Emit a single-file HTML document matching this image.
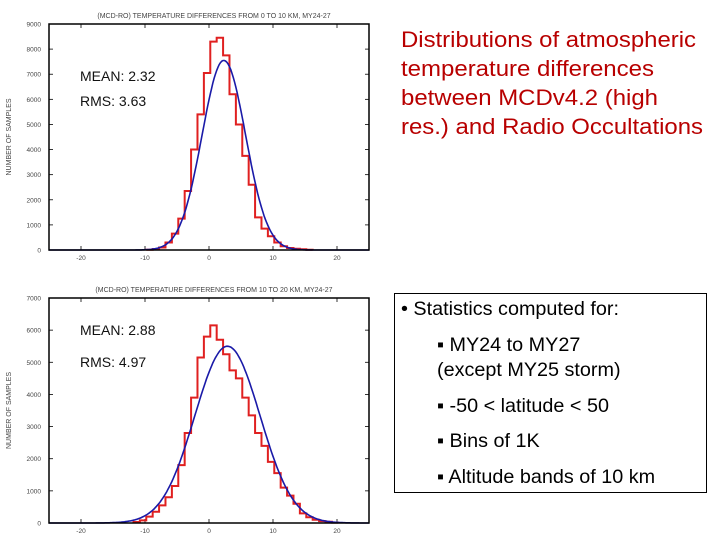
<!DOCTYPE html>
<html><head><meta charset="utf-8"><style>
body{margin:0;background:#fff;width:720px;height:540px;overflow:hidden;font-family:"Liberation Sans",sans-serif}
svg{position:absolute;left:0;top:0}
</style></head><body>
<svg id="s" width="720" height="540">
<g fill="#b80000" font-size="22" font-family="Liberation Sans, sans-serif">
<text x="401" y="47" textLength="295" lengthAdjust="spacingAndGlyphs">Distributions of atmospheric</text>
<text x="401" y="76" textLength="253" lengthAdjust="spacingAndGlyphs">temperature differences</text>
<text x="401" y="105" textLength="257" lengthAdjust="spacingAndGlyphs">between MCDv4.2 (high</text>
<text x="401" y="134" textLength="302" lengthAdjust="spacingAndGlyphs">res.) and Radio Occultations</text>
</g>
<g font-size="19.8" font-family="Liberation Sans, sans-serif" fill="#000">
<rect x="394.5" y="293.5" width="312" height="199" fill="none" stroke="#000" stroke-width="1"/>
<text x="401" y="315">• Statistics computed for:</text>
<text x="437" y="351">▪ MY24 to MY27</text>
<text x="437" y="376">(except MY25 storm)</text>
<text x="437" y="412">▪ -50 &lt; latitude &lt; 50</text>
<text x="437" y="447">▪ Bins of 1K</text>
<text x="437" y="483">▪ Altitude bands of 10 km</text>
</g>
</svg>
<script>
// Top chart data (0-10 km)
const binStart1 = -9.8;
const counts1 = [10,40,100,300,650,1250,2350,4000,5400,7050,8300,8450,7750,6200,5000,3750,2600,1300,850,550,300,150,80,50,30,10];
const fit1 = [7550, 2.32, 3.4]; // peak, mean, sigma
const yTicks1 = [0,1000,2000,3000,4000,5000,6000,7000,8000,9000];
// Bottom chart data (10-20 km)
const binStart2 = -11.8;
const counts2 = [30,80,200,350,550,800,1150,1800,2800,3900,5150,5800,6150,5700,5250,4750,4500,3900,3350,2800,2400,1900,1550,1100,850,600,300,180,100,60,40,10];
const fit2 = [5500, 2.88, 5.1];
const yTicks2 = [0,1000,2000,3000,4000,5000,6000,7000];
const xTicks = [-20,-10,0,10,20];

const NS="http://www.w3.org/2000/svg", svg=document.getElementById('s');
function mk(t,a,p){const e=document.createElementNS(NS,t);for(const k in a)e.setAttribute(k,a[k]);(p||svg).appendChild(e);return e;}

function chart(name,top,bottom,ymax,yTicks,binStart,counts,fit,title,mean,rms){
  const L=49,R=369;
  const g=mk('g',{});
  
  
  const x=v=>L+(v+25)/50*(R-L);
  const y=v=>bottom-v/ymax*(bottom-top);
  const t=mk('text',{x:(L+R)/2+5,y:top-6,'text-anchor':'middle','font-size':'7','fill':'#444'},g);
  t.textContent=title;
  
  
  const yl=mk('text',{x:0,y:0,transform:`translate(11,${(top+bottom)/2}) rotate(-90)`,'text-anchor':'middle','font-size':'7','fill':'#444'},g);
  yl.textContent='NUMBER OF SAMPLES';
  
  
  yTicks.forEach(v=>{
    const tt=mk('text',{x:L-8,y:y(v)+2.5,'text-anchor':'end','font-size':'6.5','fill':'#444'},g);
    tt.textContent=v;
    
    
    mk('line',{x1:L,x2:L+4,y1:y(v),y2:y(v),stroke:'#000','stroke-width':0.8},g);
    mk('line',{x1:R,x2:R-4,y1:y(v),y2:y(v),stroke:'#000','stroke-width':0.8},g);
  });
  xTicks.forEach(v=>{
    const tt=mk('text',{x:x(v),y:bottom+10,'text-anchor':'middle','font-size':'6.5','fill':'#444'},g);
    tt.textContent=v;
    
    
    mk('line',{x1:x(v),x2:x(v),y1:bottom,y2:bottom-4,stroke:'#000','stroke-width':0.8},g);
    mk('line',{x1:x(v),x2:x(v),y1:top,y2:top+4,stroke:'#000','stroke-width':0.8},g);
  });
  let d=`M${x(binStart)},${y(0)}`;
  counts.forEach((c,i)=>{d+=` L${x(binStart+i)},${y(c)} L${x(binStart+i+1)},${y(c)}`;});
  d+=` L${x(binStart+counts.length)},${y(0)}`;
  const h=mk('path',{d,fill:'none',stroke:'#e02020','stroke-width':2},g);
  
  
  let p='';
  for(let v=-25;v<=25;v+=0.2){const c=fit[0]*Math.exp(-Math.pow(v-fit[1],2)/(2*fit[2]*fit[2]));p+=(p?' L':'M')+x(v).toFixed(1)+','+y(c).toFixed(1);}
  const f=mk('path',{d:p,fill:'none',stroke:'#1a1aa8','stroke-width':1.6},g);
  
  
  const fr=mk('rect',{x:L,y:top,width:R-L,height:bottom-top,fill:'none',stroke:'#000','stroke-width':1.5},g);
  
  
  const m=mk('text',{x:80,y:top+57,'font-size':'14','fill':'#111'},g);
  m.textContent='MEAN: '+mean;
  
  
  const r=mk('text',{x:80,y:top+82,'font-size':'14','fill':'#111'},g);
  r.textContent='RMS: '+rms;
  
  
  if(name==='chart-bottom'){m.setAttribute('y',top+37);r.setAttribute('y',top+69);}
}
chart('chart-top',24,250,9000,yTicks1,binStart1,counts1,fit1,'(MCD-RO) TEMPERATURE DIFFERENCES FROM 0 TO 10 KM, MY24-27','2.32','3.63');
chart('chart-bottom',298,523,7000,yTicks2,binStart2,counts2,fit2,'(MCD-RO) TEMPERATURE DIFFERENCES FROM 10 TO 20 KM, MY24-27','2.88','4.97');
</script>
</body></html>
